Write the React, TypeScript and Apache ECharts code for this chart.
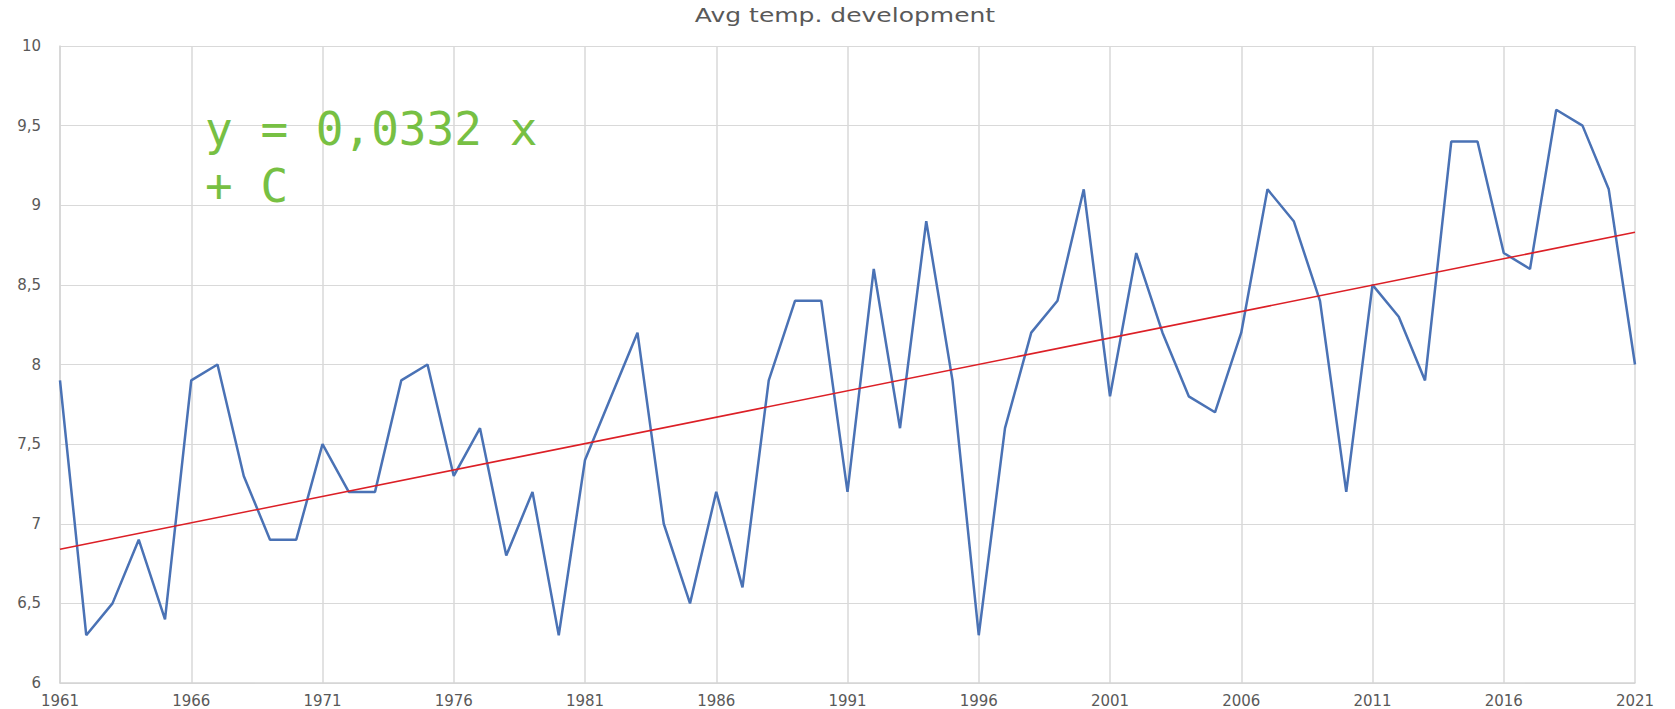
import React, { useEffect, useRef } from "react";
import * as echarts from "echarts";

const years: string[] = [
  "1961","1962","1963","1964","1965","1966","1967","1968","1969","1970",
  "1971","1972","1973","1974","1975","1976","1977","1978","1979","1980",
  "1981","1982","1983","1984","1985","1986","1987","1988","1989","1990",
  "1991","1992","1993","1994","1995","1996","1997","1998","1999","2000",
  "2001","2002","2003","2004","2005","2006","2007","2008","2009","2010",
  "2011","2012","2013","2014","2015","2016","2017","2018","2019","2020",
  "2021",
];

const avgTemp: number[] = [
  7.9, 6.3, 6.5, 6.9, 6.4, 7.9, 8.0, 7.3, 6.9, 6.9,
  7.5, 7.2, 7.2, 7.9, 8.0, 7.3, 7.6, 6.8, 7.2, 6.3,
  7.4, 7.8, 8.2, 7.0, 6.5, 7.2, 6.6, 7.9, 8.4, 8.4,
  7.2, 8.6, 7.6, 8.9, 7.9, 6.3, 7.6, 8.2, 8.4, 9.1,
  7.8, 8.7, 8.2, 7.8, 7.7, 8.2, 9.1, 8.9, 8.4, 7.2,
  8.5, 8.3, 7.9, 9.4, 9.4, 8.7, 8.6, 9.6, 9.5, 9.1,
  8.0,
];

// Trend line endpoints (1961 and 2021)
const trendStart = 6.84;
const trendEnd = 8.83;

const titleText = "Avg temp. development";
const annotationText = "y = 0,0332 x\n+ C";

export default function App() {
  const ref = useRef<HTMLDivElement>(null);

  useEffect(() => {
    if (!ref.current) return;
    const chart = echarts.init(ref.current, undefined, { renderer: "svg" });

    const trendData: (number | null)[] = years.map((_, i) =>
      i === 0 ? trendStart : i === years.length - 1 ? trendEnd : null
    );

    chart.setOption({
      animation: false,
      backgroundColor: "#ffffff",
      grid: { left: 60, right: 40, top: 46, bottom: 26, containLabel: false },
      xAxis: {
        type: "category",
        data: years,
        boundaryGap: false,
        axisLine: { show: true, lineStyle: { color: "#d4d4d4", width: 1.5 } },
        axisTick: { show: false },
        axisLabel: {
          interval: 4,
          margin: 10,
          fontFamily: "DejaVu Sans",
          fontSize: 15,
          color: "#595959",
        },
        splitLine: {
          show: true,
          interval: 4,
          lineStyle: { color: "#d9d9d9", width: 1.5 },
        },
      },
      yAxis: {
        type: "value",
        min: 6,
        max: 10,
        interval: 0.5,
        axisLine: { show: true, lineStyle: { color: "#d4d4d4", width: 1.5 } },
        axisTick: { show: false },
        axisLabel: {
          margin: 19,
          fontFamily: "DejaVu Sans",
          fontSize: 15,
          color: "#595959",
          formatter: (v: number) => String(v).replace(".", ","),
        },
        splitLine: { show: true, lineStyle: { color: "#d9d9d9", width: 1 } },
      },
      series: [
        {
          name: "Avg temp",
          type: "line",
          data: avgTemp,
          symbol: "none",
          lineStyle: { color: "#4a72b5", width: 2.5 },
          z: 2,
        },
        {
          name: "Trend",
          type: "line",
          data: trendData,
          connectNulls: true,
          symbol: "none",
          lineStyle: { color: "#dc1f26", width: 1.6 },
          z: 3,
        },
      ],
      graphic: [
        {
          type: "text",
          x: 845,
          y: 15,
          scaleX: 1.25,
          z: 10,
          style: {
            text: titleText,
            fontFamily: "DejaVu Sans",
            fontSize: 20,
            fill: "#595959",
            textAlign: "center",
            textVerticalAlign: "middle",
          },
        },
        {
          type: "text",
          left: 205,
          top: 100,
          z: 10,
          style: {
            text: annotationText,
            fontFamily: "DejaVu Sans Mono",
            fontSize: 46,
            lineHeight: 57,
            fill: "#77c043",
          },
        },
      ],
    });

    return () => chart.dispose();
  }, []);

  return (
    <div
      ref={ref}
      style={{ position: "fixed", left: 0, top: 0, width: 1675, height: 709 }}
    />
  );
}
